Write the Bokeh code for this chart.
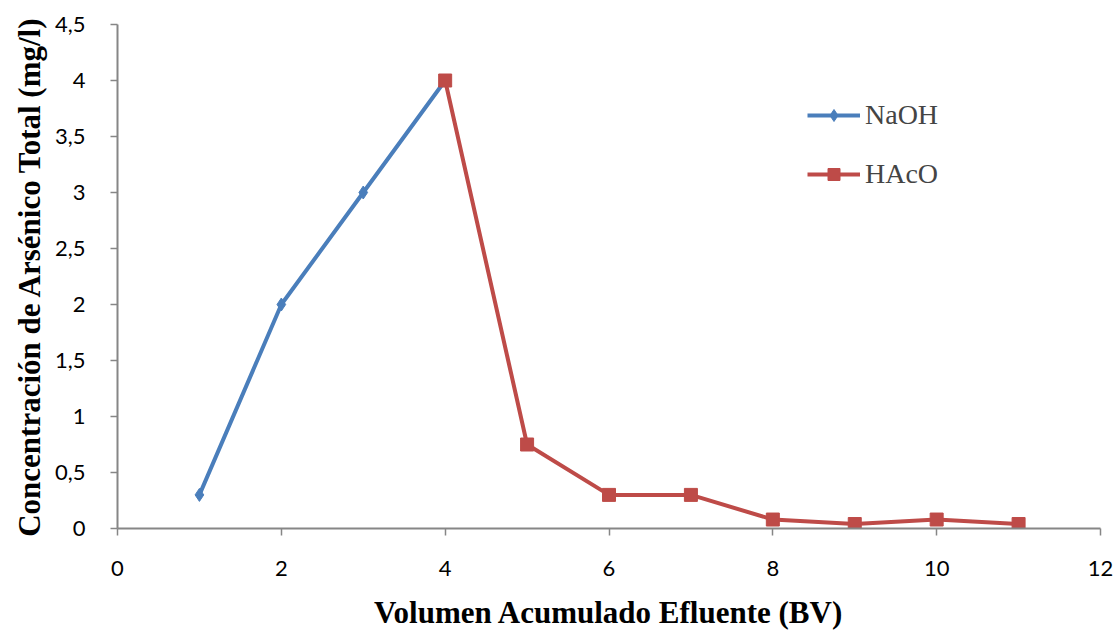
from bokeh.plotting import figure
from bokeh.models import FixedTicker, Range1d, Legend, LegendItem
from bokeh.embed import file_html
from bokeh.resources import INLINE

naoh_x = [1, 2, 3, 4]
naoh_y = [0.3, 2.0, 3.0, 4.0]
haco_x = [4, 5, 6, 7, 8, 9, 10, 11]
haco_y = [4.0, 0.75, 0.3, 0.3, 0.08, 0.04, 0.08, 0.04]
x_ticks = [0, 2, 4, 6, 8, 10, 12]
y_ticks = [0, 0.5, 1, 1.5, 2, 2.5, 3, 3.5, 4, 4.5]
y_tick_labels = ["0", "0,5", "1", "1,5", "2", "2,5", "3", "3,5", "4", "4,5"]

BLUE = "#4A7EBB"
RED = "#BE4B48"
AXIS = "#868686"

p = figure(width=1117, height=636, output_backend="svg", toolbar_location=None,
           x_range=Range1d(0, 12), y_range=Range1d(0, 4.5),
           min_border_left=117, min_border_right=17, min_border_top=24, min_border_bottom=108)
p.outline_line_color = None
p.grid.visible = False

for ax in (p.xaxis[0], p.yaxis[0]):
    ax.axis_line_color = AXIS
    ax.axis_line_width = 2
    ax.major_tick_line_color = AXIS
    ax.major_tick_line_width = 1.5
    ax.major_tick_out = 7
    ax.major_tick_in = 0
    ax.minor_tick_line_color = None
    ax.major_label_text_font = "Lato"
    ax.major_label_text_font_size = "22px"
    ax.major_label_text_color = "#000000"
    ax.axis_label_text_font = "Liberation Serif"
    ax.axis_label_text_font_style = "bold"
    ax.axis_label_text_font_size = "31px"
    ax.axis_label_text_color = "#000000"

p.xaxis.ticker = FixedTicker(ticks=x_ticks)
p.yaxis.ticker = FixedTicker(ticks=y_ticks)
p.yaxis.major_label_overrides = {t: l for t, l in zip(y_ticks, y_tick_labels)}
p.xaxis.major_label_standoff = 25
p.yaxis.major_label_standoff = 25
p.xaxis.axis_label_standoff = 16
p.yaxis.axis_label_standoff = 5
p.xaxis.axis_label = "Volumen Acumulado Efluente (BV)"
p.yaxis.axis_label = "Concentración de Arsénico Total (mg/l)"

l1 = p.line(naoh_x, naoh_y, line_color=BLUE, line_width=4)
m1 = p.scatter(naoh_x, naoh_y, marker="diamond", size=13, fill_color=BLUE, line_color=BLUE)
l2 = p.line(haco_x, haco_y, line_color=RED, line_width=4)
m2 = p.scatter(haco_x, haco_y, marker="square", size=13, fill_color=RED, line_color=RED)

legend = Legend(items=[LegendItem(label="NaOH", renderers=[l1, m1]),
                       LegendItem(label="HAcO", renderers=[l2, m2])],
                location=(690, 338), orientation="vertical")
legend.padding = 0
legend.margin = 0
legend.border_line_alpha = 0
legend.background_fill_alpha = 0
legend.label_text_font = "Liberation Serif"
legend.label_text_font_size = "28px"
legend.glyph_width = 53
legend.glyph_height = 30
legend.label_height = 30
legend.spacing = 27
legend.label_standoff = 5
p.add_layout(legend)

open("out.html", "w").write(file_html(p, INLINE))
